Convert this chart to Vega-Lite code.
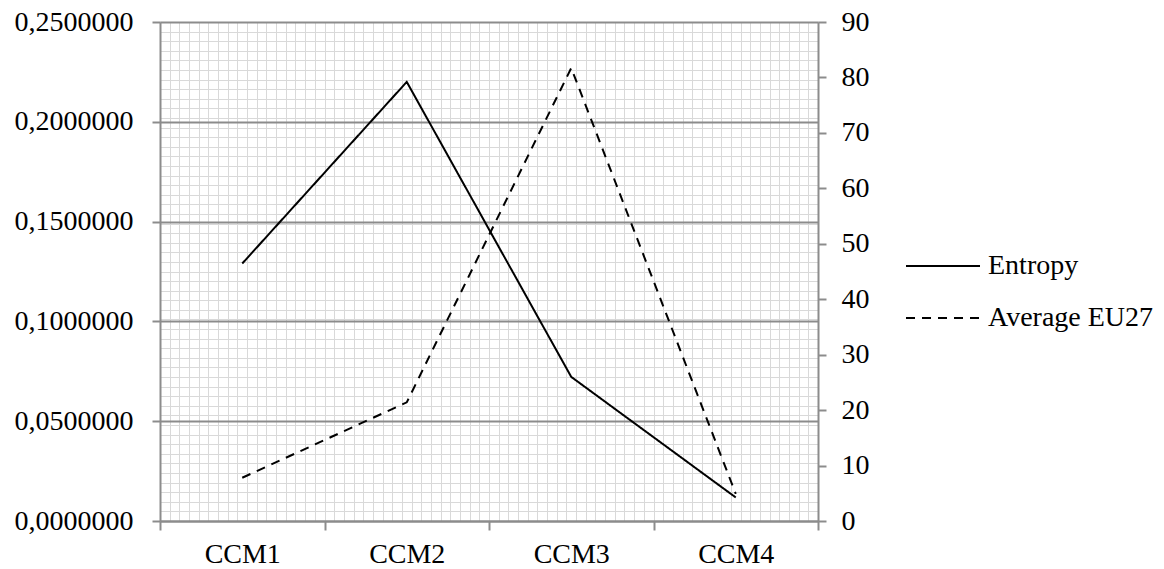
{
  "$schema": "https://vega.github.io/schema/vega-lite/v6.json",
  "width": 658,
  "height": 499,
  "autosize": {"type": "none"},
  "padding": {"left": 160, "top": 22, "right": 346, "bottom": 48},
  "background": "white",
  "config": {
    "view": {"stroke": null},
    "font": "Liberation Serif",
    "axis": {"labelFont": "Liberation Serif", "labelFontSize": 28, "labelColor": "#000000", "titleFont": "Liberation Serif"},
    "legend": {"labelFont": "Liberation Serif", "labelFontSize": 28, "labelColor": "#000000", "labelLimit": 0}
  },
  "data": {
    "values": [
      {"ccm": "CCM1", "entropy": 0.129, "avg": 7.8},
      {"ccm": "CCM2", "entropy": 0.220, "avg": 21.4},
      {"ccm": "CCM3", "entropy": 0.0722, "avg": 81.7},
      {"ccm": "CCM4", "entropy": 0.0118, "avg": 4.9}
    ]
  },
  "resolve": {"scale": {"x": "independent", "y": "independent", "strokeDash": "shared"}},
  "layer": [
    {
      "mark": {"type": "point", "opacity": 0},
      "encoding": {
        "x": {"field": "entropy", "type": "quantitative",
          "scale": {"domain": [0, 68], "nice": false, "zero": false},
          "axis": {"orient": "top", "title": null, "grid": true, "gridColor": "#d9d9d9", "gridWidth": 1,
            "values": [0,1,2,3,4,5,6,7,8,9,10,11,12,13,14,15,16,17,18,19,20,21,22,23,24,25,26,27,28,29,30,31,32,33,34,35,36,37,38,39,40,41,42,43,44,45,46,47,48,49,50,51,52,53,54,55,56,57,58,59,60,61,62,63,64,65,66,67,68],
            "labels": false, "ticks": false, "domain": false, "minExtent": 0, "maxExtent": 0}},
        "y": {"field": "avg", "type": "quantitative",
          "scale": {"domain": [0, 52], "nice": false, "zero": false},
          "axis": {"orient": "left", "title": null, "grid": true, "gridColor": "#d9d9d9", "gridWidth": 1,
            "values": [0,1,2,3,4,5,6,7,8,9,10,11,12,13,14,15,16,17,18,19,20,21,22,23,24,25,26,27,28,29,30,31,32,33,34,35,36,37,38,39,40,41,42,43,44,45,46,47,48,49,50,51,52],
            "labels": false, "ticks": false, "domain": false, "minExtent": 0, "maxExtent": 0}}
      }
    },
    {
      "mark": {"type": "line", "color": "#000000", "strokeWidth": 2},
      "encoding": {
        "x": {"field": "ccm", "type": "nominal", "bandPosition": 0.5,
          "scale": {"type": "band", "paddingInner": 0, "paddingOuter": 0},
          "axis": {"orient": "bottom", "title": null, "labelAngle": 0, "tickBand": "extent", "grid": false,
            "domainColor": "#8c8c8c", "domainWidth": 2, "tickColor": "#8c8c8c", "tickWidth": 2, "tickSize": 9,
            "labelPadding": 10}},
        "y": {"field": "entropy", "type": "quantitative",
          "scale": {"domain": [0, 0.25], "nice": false},
          "axis": {"orient": "left", "title": null, "values": [0, 0.05, 0.1, 0.15, 0.2, 0.25],
            "labelExpr": "replace(format(datum.value, '.7f'), '.', ',')",
            "grid": true, "gridColor": "#8c8c8c", "gridWidth": 2,
            "domainColor": "#8c8c8c", "domainWidth": 2, "tickColor": "#8c8c8c", "tickWidth": 2, "tickSize": 8,
            "labelPadding": 19, "labelBaseline": "middle"}},
        "strokeDash": {"datum": "Entropy", "type": "nominal",
          "scale": {"domain": ["Entropy", "Average EU27"], "range": [[1, 0], [9, 7]]},
          "legend": {"title": null, "orient": "none", "legendX": 745, "legendY": 206,
            "symbolType": "stroke", "symbolSize": 5476, "symbolStrokeWidth": 2, "symbolStrokeColor": "#000000",
            "labelOffset": 7, "rowPadding": -3, "symbolOpacity": 1, "labelLimit": 0}}
      }
    },
    {
      "mark": {"type": "line", "color": "#000000", "strokeWidth": 2},
      "encoding": {
        "x": {"field": "ccm", "type": "nominal", "bandPosition": 0.5,
          "scale": {"type": "band", "paddingInner": 0, "paddingOuter": 0},
          "axis": null},
        "y": {"field": "avg", "type": "quantitative",
          "scale": {"domain": [0, 90], "nice": false},
          "axis": {"orient": "right", "title": null, "values": [0,10,20,30,40,50,60,70,80,90],
            "grid": false,
            "domainColor": "#8c8c8c", "domainWidth": 2, "tickColor": "#8c8c8c", "tickWidth": 2, "tickSize": 8,
            "labelPadding": 15, "labelBaseline": "middle"}},
        "strokeDash": {"datum": "Average EU27", "type": "nominal"}
      }
    }
  ]
}
